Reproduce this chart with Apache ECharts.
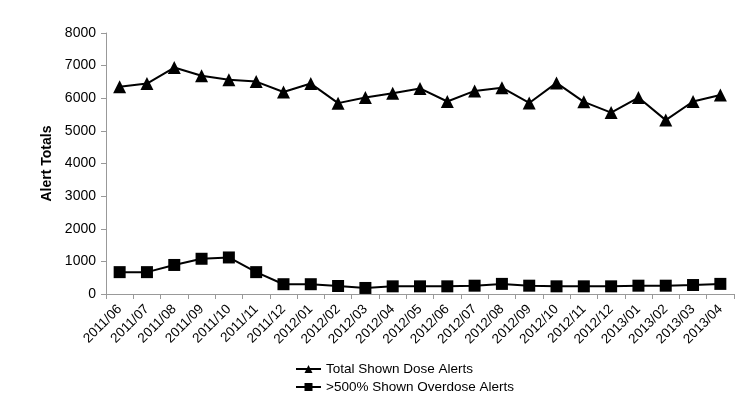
<!DOCTYPE html>
<html>
<head>
<meta charset="utf-8">
<script src="https://cdn.jsdelivr.net/npm/echarts@6/dist/echarts.min.js"></script>
<style>
  html, body { margin: 0; padding: 0; background: #fff; }
  #chart { width: 748px; height: 407px; }
</style>
</head>
<body>
<div id="chart"></div>
<script>
var months = ['2011/06', '2011/07', '2011/08', '2011/09', '2011/10', '2011/11', '2011/12',
    '2012/01', '2012/02', '2012/03', '2012/04', '2012/05', '2012/06', '2012/07', '2012/08',
    '2012/09', '2012/10', '2012/11', '2012/12', '2013/01', '2013/02', '2013/03', '2013/04'];

var totalAlerts = [6350, 6450, 6940, 6690, 6570, 6510, 6190, 6450, 5850, 6020, 6150, 6300,
    5900, 6225, 6325, 5855, 6470, 5890, 5560, 6020, 5330, 5900, 6100];

var overdoseAlerts = [670, 670, 890, 1080, 1120, 670, 300, 300, 245, 185, 235, 235,
    235, 255, 310, 255, 235, 235, 235, 255, 255, 275, 310];

var chartDom = document.getElementById('chart');
var myChart = echarts.init(chartDom);
var font = 'Liberation Sans';

var option = {
    animation: false,
    textStyle: { fontFamily: font },
    grid: { left: 106, right: 14, top: 33, bottom: 113 },
    legend: {
        orient: 'vertical',
        left: 290,
        top: 357,
        itemWidth: 25,
        itemHeight: 10,
        itemGap: 4,
        textStyle: { fontSize: 13.5, color: '#000', fontFamily: font },
        data: ['Total Shown Dose Alerts', '>500% Shown Overdose Alerts']
    },
    xAxis: {
        type: 'category',
        data: months,
        boundaryGap: true,
        axisLine: { lineStyle: { color: '#999' } },
        axisTick: { show: true, length: 5, lineStyle: { color: '#999' } },
        axisLabel: { rotate: 45, fontSize: 13.5, color: '#000', interval: 0, margin: 13 }
    },
    yAxis: {
        type: 'value',
        min: 0,
        max: 8000,
        interval: 1000,
        name: 'Alert Totals',
        nameLocation: 'middle',
        nameGap: 52,
        nameTextStyle: { fontSize: 14, fontWeight: 'bold', color: '#000' },
        axisLine: { show: true, lineStyle: { color: '#999' } },
        axisTick: { show: true, length: 5, lineStyle: { color: '#999' } },
        axisLabel: { fontSize: 14, color: '#000', margin: 10, formatter: function (v) { return String(v); } },
        splitLine: { show: false }
    },
    series: [
        {
            name: 'Total Shown Dose Alerts',
            type: 'line',
            data: totalAlerts,
            symbol: 'triangle',
            symbolSize: 13,
            lineStyle: { color: '#000', width: 2 },
            itemStyle: { color: '#000' }
        },
        {
            name: '>500% Shown Overdose Alerts',
            type: 'line',
            data: overdoseAlerts,
            symbol: 'rect',
            symbolSize: 12,
            lineStyle: { color: '#000', width: 2 },
            itemStyle: { color: '#000' }
        }
    ]
};

myChart.setOption(option);
</script>
</body>
</html>
